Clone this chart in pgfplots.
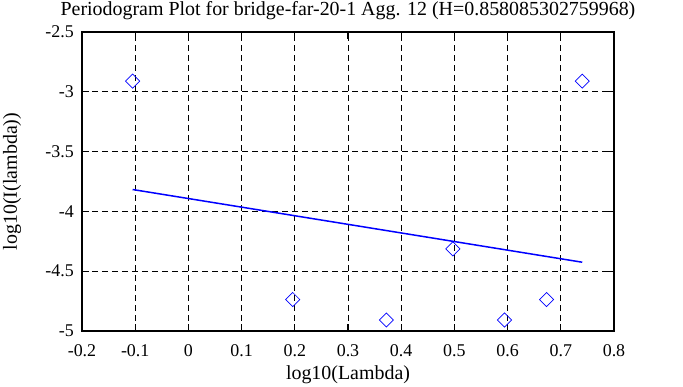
\documentclass[border=0pt]{standalone}
\usepackage{fontspec}
\setmainfont{Liberation Serif}
\usepackage{pgfplots}
\pgfplotsset{compat=1.18}
\begin{document}
\fontsize{18}{21}\selectfont
\begin{tikzpicture}
\useasboundingbox (-82bp,-56bp) rectangle (601bp,331bp);
\begin{axis}[
  at={(0,0)}, anchor=south west,
  scale only axis, width=532bp, height=299bp,
  xmin=-0.2, xmax=0.8, ymin=-5, ymax=-2.5,
  xtick={-0.2,-0.1,...,0.81}, ytick={-5,-4.5,...,-2.4},
  xticklabels={-0.2,-0.1,0,0.1,0.2,0.3,0.4,0.5,0.6,0.7,0.8},
  yticklabels={-5,-4.5,-4,-3.5,-3,-2.5},
  /pgf/number format/assume math mode=true,
  tick align=inside, major tick length=7bp,
  tick style={black, line width=1.2bp},
  axis line style={line width=1.6bp},
  grid=major,
  major grid style={black, dash pattern=on 6bp off 4bp, line width=0.8bp},
  ticklabel style={font=\fontsize{18}{21}\selectfont},
  xticklabel style={yshift=-7bp},
  yticklabel style={xshift=-2bp},
  title={Periodogram Plot for bridge-far-20-1 Agg. 12 (H=0.858085302759968)},
  title style={font=\fontsize{20}{23}\selectfont, yshift=0bp},
  xlabel={log10(Lambda)}, ylabel={log10(I(lambda))},
  label style={font=\fontsize{20}{23}\selectfont},
  xlabel style={yshift=3bp},
  ylabel style={yshift=12bp},
]
\addplot[only marks, mark=square, mark size=5bp, mark options={rotate=45, draw=blue, line width=0.7bp, fill=none}]
coordinates {
(-0.1049,-2.911) (0.1961,-4.737) (0.3722,-4.908) (0.4971,-4.313) (0.5941,-4.908) (0.6733,-4.737) (0.7403,-2.911)
};
\addplot[blue, line width=1.5bp, no marks] coordinates {(-0.1049,-3.817) (0.7403,-4.425)};
\end{axis}
\end{tikzpicture}
\end{document}
